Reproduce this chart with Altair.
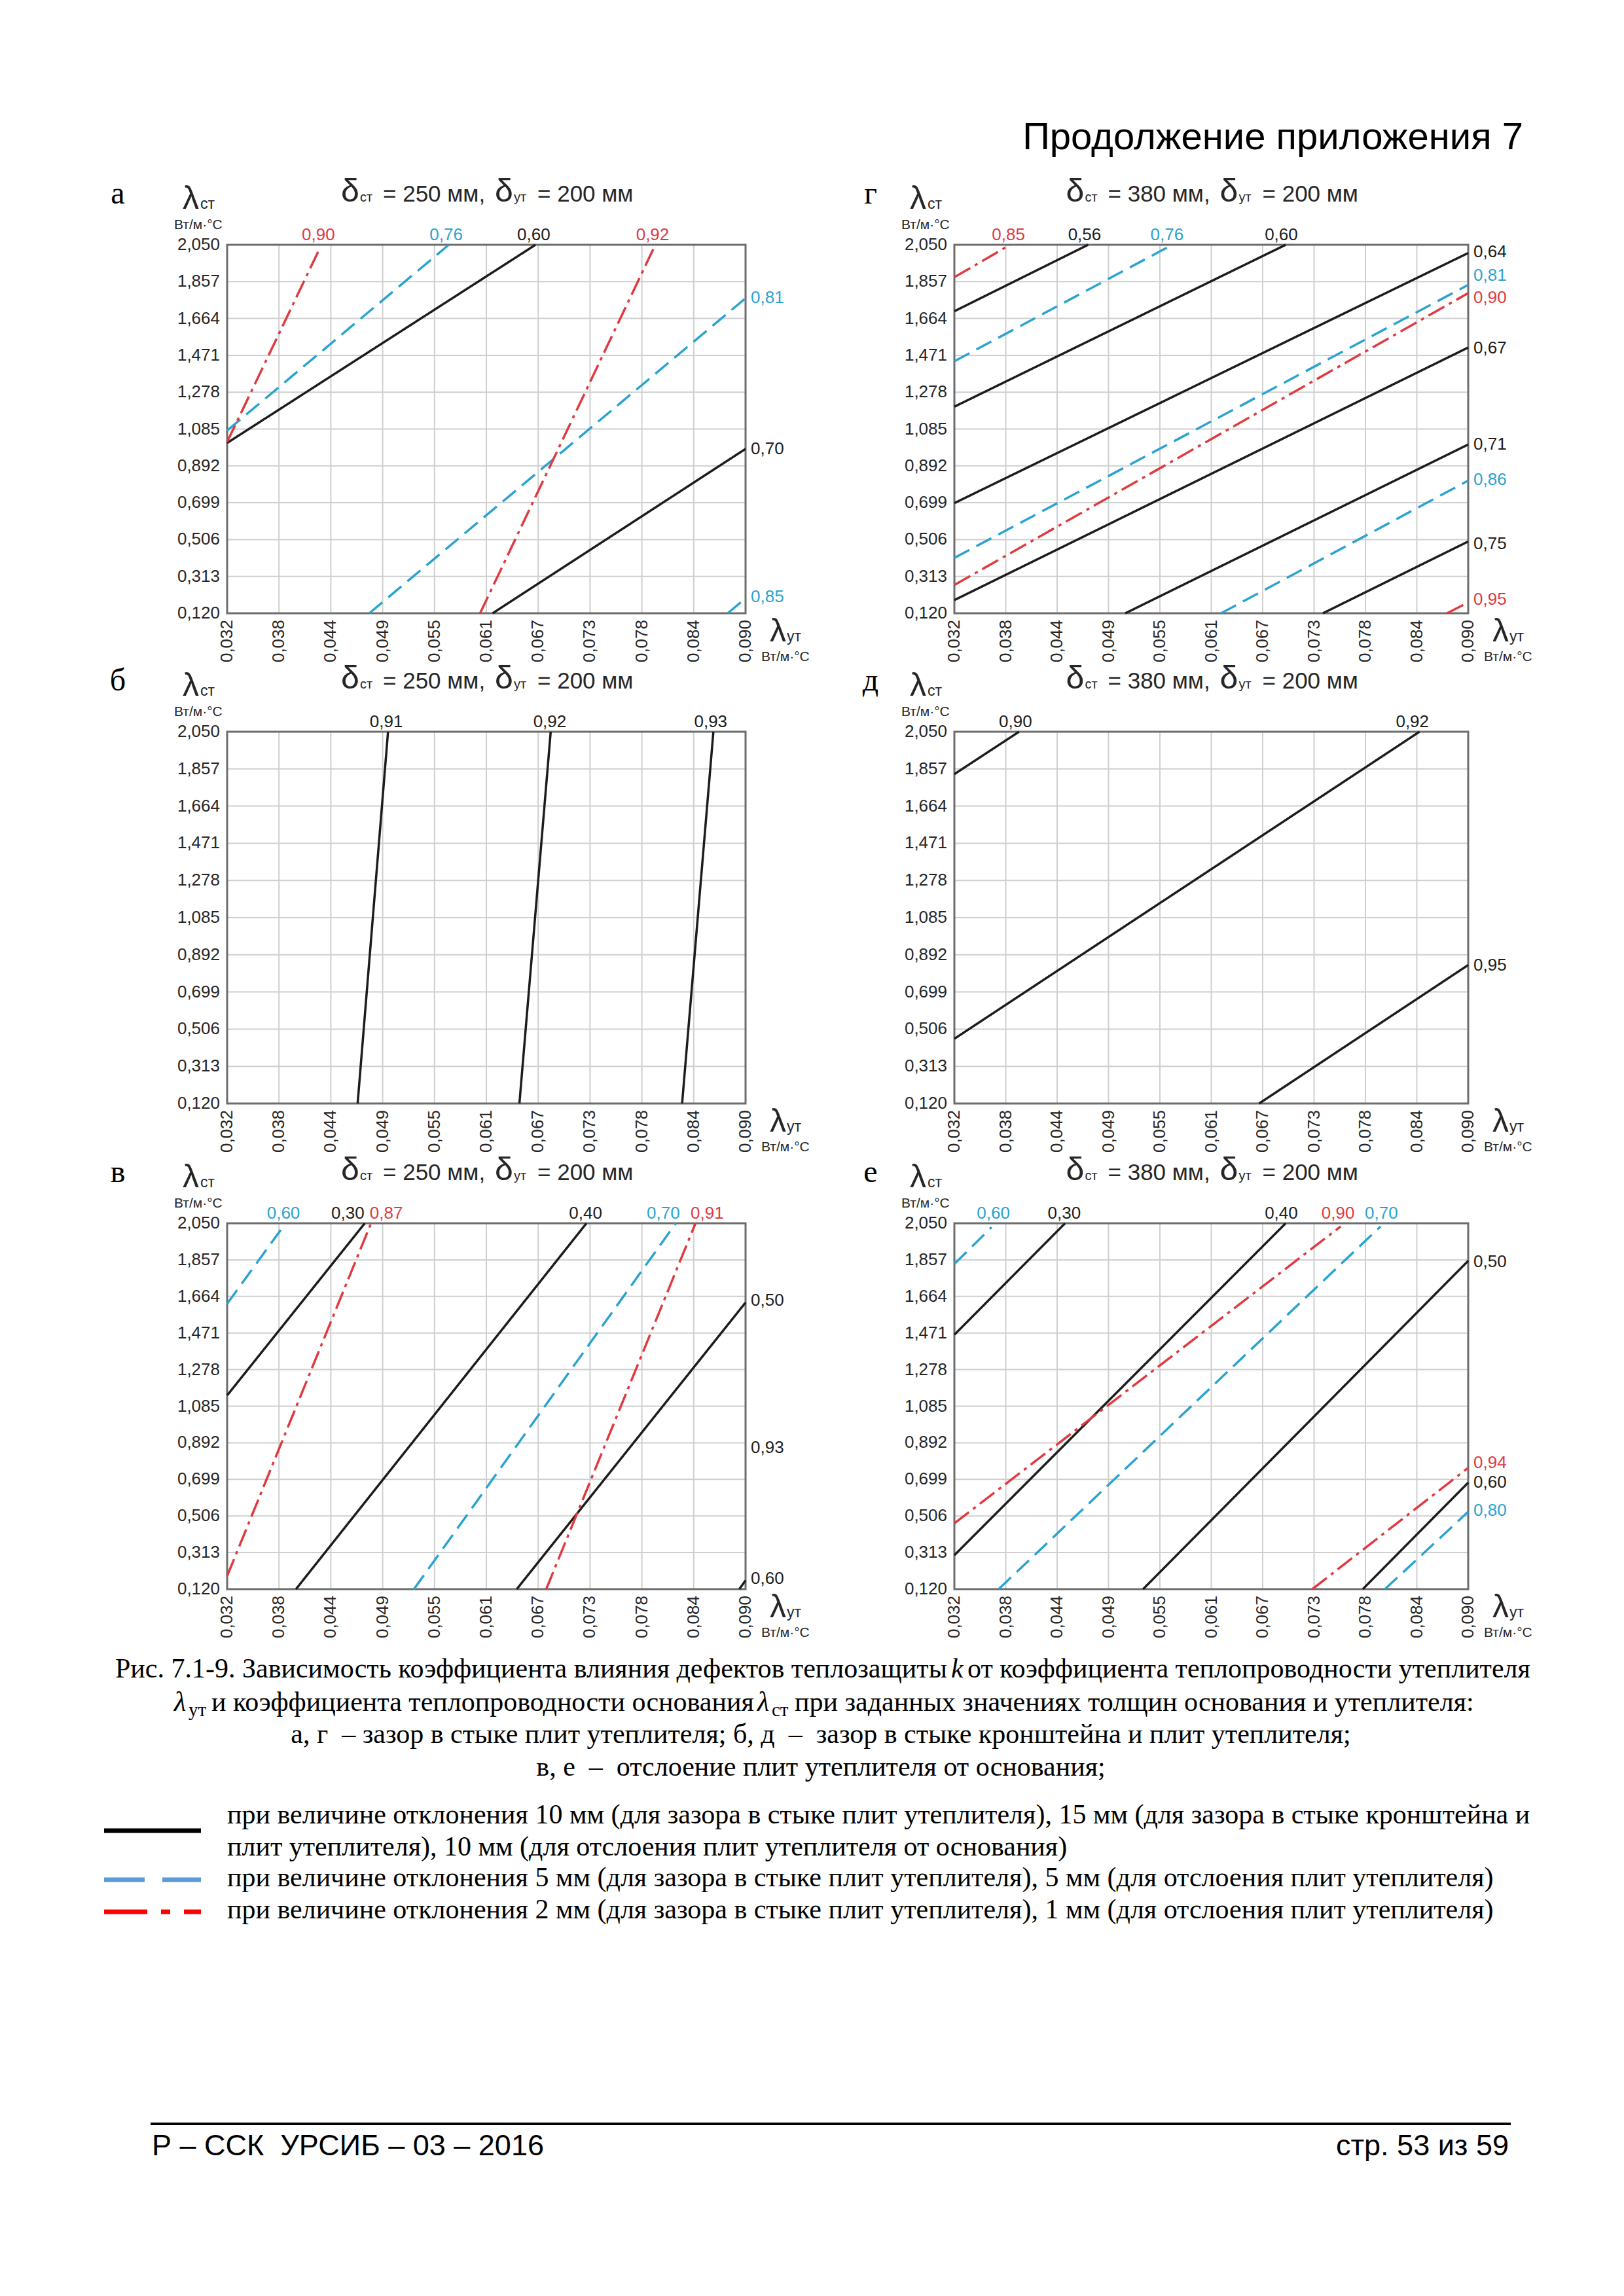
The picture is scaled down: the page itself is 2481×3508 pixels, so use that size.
import altair as alt
import pandas as pd

# ---------------------------------------------------------------- data
X_TICKS = [0.0320, 0.0378, 0.0436, 0.0494, 0.0552, 0.0610, 0.0668, 0.0726, 0.0784, 0.0842, 0.0900]
X_LABELS = ["0,032", "0,038", "0,044", "0,049", "0,055", "0,061", "0,067", "0,073", "0,078", "0,084", "0,090"]
Y_TICKS = [0.120, 0.313, 0.506, 0.699, 0.892, 1.085, 1.278, 1.471, 1.664, 1.857, 2.050]
Y_LABELS = ["0,120", "0,313", "0,506", "0,699", "0,892", "1,085", "1,278", "1,471", "1,664", "1,857", "2,050"]

# series: "10" = 10 мм (black), "5" = 5 мм (blue dashed), "2" = 2 мм (red dash-dot)
# (series, k, x start, y start, x end, y end, label side, label x, label y)
LINES_A = [
    ("10", "0,60", 0.0320, 1.012, 0.0665, 2.050, "top", 0.0663, 2.050),
    ("10", "0,70", 0.0617, 0.120, 0.0900, 0.981, "right", 0.0900, 0.981),
    ("5", "0,76", 0.0320, 1.077, 0.0568, 2.050, "top", 0.0565, 2.050),
    ("5", "0,81", 0.0479, 0.120, 0.0900, 1.770, "right", 0.0900, 1.774),
    ("5", "0,85", 0.0880, 0.120, 0.0900, 0.198, "right", 0.0900, 0.205),
    ("2", "0,90", 0.0320, 1.017, 0.0423, 2.025, "top", 0.0422, 2.050),
    ("2", "0,92", 0.0603, 0.120, 0.0797, 2.030, "top", 0.0796, 2.050),
]
LINES_G = [
    ("2", "0,85", 0.0320, 1.880, 0.0383, 2.050, "top", 0.0381, 2.050),
    ("10", "0,56", 0.0320, 1.702, 0.0471, 2.050, "top", 0.0467, 2.050),
    ("5", "0,76", 0.0320, 1.440, 0.0566, 2.050, "top", 0.0560, 2.050),
    ("10", "0,60", 0.0320, 1.202, 0.0694, 2.050, "top", 0.0689, 2.050),
    ("10", "0,64", 0.0320, 0.697, 0.0900, 2.007, "right", 0.0900, 2.011),
    ("5", "0,81", 0.0320, 0.410, 0.0900, 1.840, "right", 0.0900, 1.888),
    ("2", "0,90", 0.0320, 0.268, 0.0900, 1.797, "right", 0.0900, 1.771),
    ("10", "0,67", 0.0320, 0.189, 0.0900, 1.512, "right", 0.0900, 1.509),
    ("10", "0,71", 0.0513, 0.120, 0.0900, 1.004, "right", 0.0900, 1.005),
    ("5", "0,86", 0.0621, 0.120, 0.0900, 0.815, "right", 0.0900, 0.820),
    ("10", "0,75", 0.0736, 0.120, 0.0900, 0.496, "right", 0.0900, 0.485),
    ("2", "0,95", 0.0876, 0.120, 0.0900, 0.177, "right", 0.0900, 0.193),
]
LINES_B = [
    ("10", "0,91", 0.0466, 0.120, 0.0500, 2.050, "top", 0.0498, 2.050),
    ("10", "0,92", 0.0647, 0.120, 0.0682, 2.050, "top", 0.0681, 2.050),
    ("10", "0,93", 0.0829, 0.120, 0.0864, 2.050, "top", 0.0861, 2.050),
]
LINES_D = [
    ("10", "0,90", 0.0320, 1.830, 0.0393, 2.050, "top", 0.0389, 2.050),
    ("10", "0,92", 0.0320, 0.456, 0.0845, 2.050, "top", 0.0837, 2.050),
    ("10", "0,95", 0.0664, 0.120, 0.0900, 0.839, "right", 0.0900, 0.838),
]
LINES_V = [
    ("5", "0,60", 0.0320, 1.625, 0.0380, 2.015, "top", 0.0383, 2.050),
    ("10", "0,30", 0.0320, 1.142, 0.0474, 2.050, "top", 0.0455, 2.050),
    ("2", "0,87", 0.0320, 0.189, 0.0481, 2.050, "top", 0.0498, 2.050),
    ("10", "0,40", 0.0397, 0.120, 0.0722, 2.050, "top", 0.0721, 2.050),
    ("5", "0,70", 0.0529, 0.120, 0.0822, 2.050, "top", 0.0808, 2.050),
    ("2", "0,91", 0.0677, 0.120, 0.0844, 2.050, "top", 0.0857, 2.050),
    ("10", "0,50", 0.0644, 0.120, 0.0900, 1.632, "right", 0.0900, 1.641),
    ("10", "0,60", 0.0893, 0.120, 0.0900, 0.166, "right", 0.0900, 0.175),
]
LABELS_ONLY_V = [("10", "0,93", "right", 0.0900, 0.867)]
LINES_E = [
    ("5", "0,60", 0.0320, 1.835, 0.0362, 2.029, "top", 0.0364, 2.050),
    ("10", "0,30", 0.0320, 1.462, 0.0445, 2.050, "top", 0.0444, 2.050),
    ("10", "0,40", 0.0320, 0.299, 0.0694, 2.050, "top", 0.0689, 2.050),
    ("2", "0,90", 0.0320, 0.467, 0.0756, 2.033, "top", 0.0753, 2.050),
    ("5", "0,70", 0.0370, 0.120, 0.0801, 2.033, "top", 0.0802, 2.050),
    ("10", "0,50", 0.0533, 0.120, 0.0900, 1.852, "right", 0.0900, 1.847),
    ("2", "0,94", 0.0724, 0.120, 0.0900, 0.760, "right", 0.0900, 0.786),
    ("10", "0,60", 0.0781, 0.120, 0.0900, 0.682, "right", 0.0900, 0.682),
    ("5", "0,80", 0.0806, 0.120, 0.0900, 0.528, "right", 0.0900, 0.536),
]

THICK_BASE = {"left": "250", "right": "380"}
THICK_INS = "200"

HEADER = "Продолжение приложения 7"
CAPTION_1A = "Рис. 7.1-9. Зависимость коэффициента влияния дефектов теплозащиты"
CAPTION_1B = "от коэффициента теплопроводности утеплителя"
CAPTION_2A = "и коэффициента теплопроводности основания"
CAPTION_2B = "при заданных значениях толщин основания и утеплителя:"
CAPTION_3 = "а, г\u00a0 – зазор в стыке плит утеплителя; б, д\u00a0 – \u00a0зазор в стыке кронштейна и плит утеплителя;"
CAPTION_4 = "в, е\u00a0 – \u00a0отслоение плит утеплителя от основания;"
LEGEND_1 = "при величине отклонения 10 мм (для зазора в стыке плит утеплителя), 15 мм (для зазора в стыке кронштейна и"
LEGEND_2 = "плит утеплителя), 10 мм (для отслоения плит утеплителя от основания)"
LEGEND_3 = "при величине отклонения 5 мм (для зазора в стыке плит утеплителя), 5 мм (для отслоения плит утеплителя)"
LEGEND_4 = "при величине отклонения 2 мм (для зазора в стыке плит утеплителя), 1 мм (для отслоения плит утеплителя)"
FOOTER_LEFT = "Р – ССК\u00a0 УРСИБ – 03 – 2016"
FOOTER_RIGHT = "стр. 53 из 59"

# ---------------------------------------------------------------- style
W, H = 2450, 3480
M = 8  # page margin
SANS = "Liberation Sans, Arial, sans-serif"
SERIF = "Liberation Serif, Times New Roman, serif"
BLACK = "#1c1c1c"
BLUE = "#2aa3cf"
RED = "#e0393f"
GRID = "#cfcfcf"
FRAME = "#6d6d6d"
TXT = "#262626"
STYLE = {
    "10": dict(color=BLACK, dash=[1, 0]),
    "5": dict(color=BLUE, dash=[26, 12]),
    "2": dict(color=RED, dash=[28, 8, 5, 8]),
}


def T(text, x, y, size, font=SANS, align="left", baseline="alphabetic",
      color="#000000", style="normal", angle=0):
    return alt.Chart(pd.DataFrame({"t": [text]})).mark_text(
        align=align, baseline=baseline, font=font, fontSize=size,
        color=color, fontStyle=style, angle=angle,
    ).encode(x=alt.value(x - M), y=alt.value(y - M), text="t:N")


def panel(letter, lines, extra, box, side, letter_dx):
    L, Tp, R, B = box
    xs = alt.Scale(domain=[X_TICKS[0], X_TICKS[-1]], range=[L - M, R - M], nice=False, zero=False)
    ys = alt.Scale(domain=[Y_TICKS[0], Y_TICKS[-1]], range=[B - M, Tp - M], nice=False, zero=False)

    def X(f):
        return alt.X(f, type="quantitative", scale=xs, axis=None)

    def Y(f):
        return alt.Y(f, type="quantitative", scale=ys, axis=None)

    out = []
    vg = pd.DataFrame({"x": X_TICKS[1:-1], "y0": Y_TICKS[0], "y1": Y_TICKS[-1]})
    hg = pd.DataFrame({"y": Y_TICKS[1:-1], "x0": X_TICKS[0], "x1": X_TICKS[-1]})
    out.append(alt.Chart(vg).mark_rule(color=GRID, strokeWidth=2).encode(
        x=X("x"), y=Y("y0"), y2=alt.Y2("y1")))
    out.append(alt.Chart(hg).mark_rule(color=GRID, strokeWidth=2).encode(
        y=Y("y"), x=X("x0"), x2=alt.X2("x1")))
    fr = pd.DataFrame({"x0": [X_TICKS[0]], "x1": [X_TICKS[-1]], "y0": [Y_TICKS[0]], "y1": [Y_TICKS[-1]]})
    out.append(alt.Chart(fr).mark_rect(fillOpacity=0, stroke=FRAME, strokeWidth=3).encode(
        x=X("x0"), x2=alt.X2("x1"), y=Y("y0"), y2=alt.Y2("y1")))

    df = pd.DataFrame(lines, columns=["s", "k", "xa", "ya", "xb", "yb", "side", "lx", "ly"])
    for s, st in STYLE.items():
        sub = df[df.s == s]
        if len(sub) == 0:
            continue
        out.append(alt.Chart(sub).mark_rule(
            color=st["color"], strokeWidth=3.5, strokeDash=st["dash"], strokeCap="butt"
        ).encode(x=X("xa"), y=Y("ya"), x2=alt.X2("xb"), y2=alt.Y2("yb")))

    lab = df[["s", "k", "side", "lx", "ly"]]
    if extra:
        lab = pd.concat([lab, pd.DataFrame(extra, columns=["s", "k", "side", "lx", "ly"])])
    lab = lab.assign(c=lab.s.map({k: v["color"] for k, v in STYLE.items()}))
    top = lab[lab.side == "top"]
    right = lab[lab.side == "right"]
    if len(top):
        out.append(alt.Chart(top).mark_text(align="center", baseline="alphabetic", dy=-7,
                                            font=SANS, fontSize=26).encode(
            x=X("lx"), y=Y("ly"), text="k:N", color=alt.Color("c:N", scale=None)))
    if len(right):
        out.append(alt.Chart(right).mark_text(align="left", baseline="middle", dx=8,
                                              font=SANS, fontSize=26).encode(
            x=X("lx"), y=Y("ly"), text="k:N", color=alt.Color("c:N", scale=None)))

    yt = pd.DataFrame({"v": Y_TICKS, "t": Y_LABELS, "x": X_TICKS[0]})
    out.append(alt.Chart(yt).mark_text(align="right", baseline="middle", dx=-11,
                                       font=SANS, fontSize=26, color=TXT).encode(
        x=X("x"), y=Y("v"), text="t:N"))
    xt = pd.DataFrame({"v": X_TICKS, "t": X_LABELS, "y": Y_TICKS[0]})
    out.append(alt.Chart(xt).mark_text(align="right", baseline="middle", angle=270, dx=-10,
                                       font=SANS, fontSize=26, color=TXT).encode(
        x=X("v"), y=Y("y"), text="t:N"))

    c = (L + R) / 2
    out += [
        T(letter, L + letter_dx, Tp - 77, 48, SERIF, "center", "middle"),
        T("λ", L - 68, Tp - 55, 50, color=TXT),
        T("ст", L - 41, Tp - 55, 23, color=TXT),
        T("Вт/м·°С", L - 81, Tp - 24, 21, color=TXT),
        T("δ", c - 222, Tp - 66, 50, color=TXT),
        T("ст", c - 193, Tp - 66, 20, color=TXT),
        T("= " + THICK_BASE[side] + " мм,", c - 158, Tp - 66, 35, color=TXT),
        T("δ", c + 13, Tp - 66, 50, color=TXT),
        T("ут", c + 42, Tp - 66, 20, color=TXT),
        T("= " + THICK_INS + " мм", c + 78, Tp - 66, 35, color=TXT),
        T("λ", R + 37, B + 43, 50, color=TXT),
        T("ут", R + 63, B + 43, 23, color=TXT),
        T("Вт/м·°С", R + 24, B + 73, 21, color=TXT),
    ]
    return out


COL_L = (347, 1139)
COL_R = (1458, 2243)
ROWS = [(374, 937), (1118, 1686), (1869, 2428)]


def box(col, row):
    return (col[0], row[0], col[1], row[1])


layers = []
layers += panel("а", LINES_A, None, box(COL_L, ROWS[0]), "left", -167)
layers += panel("г", LINES_G, None, box(COL_R, ROWS[0]), "right", -128)
layers += panel("б", LINES_B, None, box(COL_L, ROWS[1]), "left", -167)
layers += panel("д", LINES_D, None, box(COL_R, ROWS[1]), "right", -128)
layers += panel("в", LINES_V, LABELS_ONLY_V, box(COL_L, ROWS[2]), "left", -167)
layers += panel("е", LINES_E, None, box(COL_R, ROWS[2]), "right", -128)

# page header
layers.append(T(HEADER, 2327, 228, 58, align="right"))

# caption
CS = 42
layers += [
    T(CAPTION_1A, 176, 2563, CS, SERIF),
    T("k", 1453, 2563, CS, SERIF, style="italic"),
    T(CAPTION_1B, 1478, 2563, CS, SERIF),
    T("λ", 266, 2614, CS, SERIF, style="italic"),
    T("ут", 288, 2622, 29, SERIF),
    T(CAPTION_2A, 323, 2614, CS, SERIF),
    T("λ", 1157, 2614, CS, SERIF, style="italic"),
    T("ст", 1179, 2622, 29, SERIF),
    T(CAPTION_2B, 1214, 2614, CS, SERIF),
    T(CAPTION_3, 1254, 2663, CS, SERIF, align="center"),
    T(CAPTION_4, 1254, 2713, CS, SERIF, align="center"),
]

# legend
one = pd.DataFrame({"a": [0]})
layers += [
    alt.Chart(one).mark_rule(color="#000000", strokeWidth=7, strokeCap="butt").encode(
        x=alt.value(159 - M), x2=alt.value(307 - M), y=alt.value(2797 - M)),
    alt.Chart(one).mark_rule(color="#5b9bd5", strokeWidth=7, strokeCap="butt",
                             strokeDash=[62, 27]).encode(
        x=alt.value(159 - M), x2=alt.value(307 - M), y=alt.value(2872 - M)),
    alt.Chart(one).mark_rule(color="#ff0000", strokeWidth=7, strokeCap="butt",
                             strokeDash=[66, 21, 14, 21]).encode(
        x=alt.value(159 - M), x2=alt.value(307 - M), y=alt.value(2921 - M)),
    T(LEGEND_1, 347, 2786, CS, SERIF),
    T(LEGEND_2, 347, 2835, CS, SERIF),
    T(LEGEND_3, 347, 2882, CS, SERIF),
    T(LEGEND_4, 347, 2931, CS, SERIF),
]

# footer
layers += [
    alt.Chart(one).mark_rule(color="#000000", strokeWidth=4).encode(
        x=alt.value(230 - M), x2=alt.value(2308 - M), y=alt.value(3245 - M)),
    T(FOOTER_LEFT, 232, 3293, 45),
    T(FOOTER_RIGHT, 2305, 3293, 45, align="right"),
]

chart = alt.layer(*layers).resolve_scale(x="independent", y="independent").properties(
    width=W, height=H, autosize=alt.AutoSizeParams(type="none"), padding=0,
    background="white",
).configure_view(stroke=None)

chart.save("out.html", embed_options={"renderer": "svg", "actions": False})
